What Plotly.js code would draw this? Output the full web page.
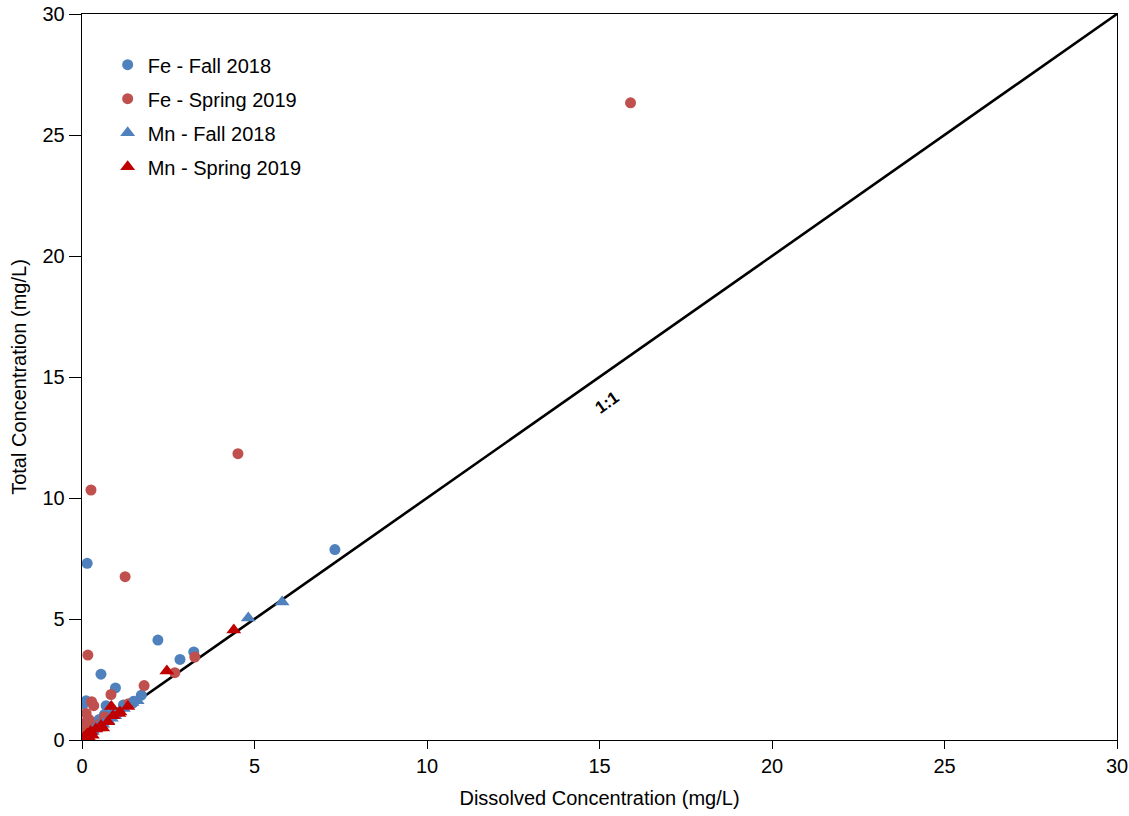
<!DOCTYPE html>
<html>
<head>
<meta charset="utf-8">
<script src="https://cdn.plot.ly/plotly-3.0.1.min.js"></script>
<style>html,body{margin:0;padding:0;background:#fff;}#chart{width:1129px;height:816px;}</style>
</head>
<body>
<div id="chart"></div>
<script>
// Fe - Fall 2018 (dissolved, total)
const feFallX = [7.33,0.15,2.2,3.24,2.84,0.55,0.97,1.72,1.5,1.2,0.7,0.12,0.05,0.9,0.6,0.45,0.3,0.2,0.35,0.8,1.05,0.1,0.05,0.65,0.5,1.48];
const feFallY = [7.87,7.3,4.13,3.64,3.33,2.72,2.15,1.85,1.6,1.45,1.42,1.62,1.5,1.1,0.75,0.6,0.45,0.3,0.55,0.95,1.15,0.2,0.1,1.05,0.85,1.53];
// Fe - Spring 2019
const feSprX = [15.9,4.52,0.26,1.25,0.17,3.27,2.69,1.8,0.84,0.28,0.34,0.12,0.05,0.15,0.25,0.65,1.35,0.1,0.4,0.05,0.5,0.2];
const feSprY = [26.33,11.83,10.33,6.75,3.51,3.43,2.78,2.25,1.88,1.58,1.42,1.1,0.68,0.6,0.5,0.95,1.5,0.35,0.5,0.2,0.65,0.85];
// Mn - Fall 2018
const mnFallX = [5.8,4.82,1.45,1.2,0.95,0.75,0.6,0.45,0.3,0.2,0.1,0.05,1.6,0.85,0.5,0.35];
const mnFallY = [5.7,5.04,1.55,1.3,1.0,0.8,0.65,0.5,0.35,0.25,0.12,0.05,1.62,0.9,0.6,0.45];
// Mn - Spring 2019
const mnSprX = [4.4,2.46,0.85,1.33,1.07,0.75,0.55,0.4,0.25,0.15,0.1,0.05,0.02,0.3,0.2,0.9,0.6,1.1];
const mnSprY = [4.55,2.85,1.38,1.38,1.1,0.75,0.6,0.45,0.35,0.25,0.15,0.1,0.02,0.2,0.1,1.0,0.5,1.16];
// 1:1 reference line
const lineX = [0,30];
const lineY = [0,30];
const ticks = [0,5,10,15,20,25,30];

const blue = '#4F81BD', red = '#C0504D', darkRed = '#C00000';
const font = 'Liberation Sans, Arial, sans-serif';

const traces = [
  {x: lineX, y: lineY, mode: 'lines', line: {color: '#000', width: 2.6}, showlegend: false, hoverinfo: 'skip'},
  {x: feFallX, y: feFallY, mode: 'markers', name: 'Fe - Fall 2018', legendgroup: 'a',
   marker: {symbol: 'circle', size: 11, color: blue}},
  {x: feSprX, y: feSprY, mode: 'markers', name: 'Fe - Spring 2019', legendgroup: 'b',
   marker: {symbol: 'circle', size: 11, color: red}},
  {x: mnFallX, y: mnFallY, mode: 'markers', name: 'Mn - Fall 2018', legendgroup: 'c',
   marker: {symbol: 'triangle-up', size: 13, color: blue}},
  {x: mnSprX, y: mnSprY, mode: 'markers', name: 'Mn - Spring 2019', legendgroup: 'd',
   marker: {symbol: 'triangle-up', size: 13, color: darkRed}}
];

const layout = {
  width: 1129, height: 816,
  margin: {l: 82, r: 12, t: 14, b: 76},
  paper_bgcolor: '#fff', plot_bgcolor: '#fff',
  font: {family: font, size: 19, color: '#000'},
  showlegend: true,
  legend: {x: 0.0248, y: 0.957, xanchor: 'left', yanchor: 'top', bgcolor: 'rgba(0,0,0,0)',
           font: {family: font, size: 20, color: '#000'}, tracegroupgap: 5},
  xaxis: {range: [0, 30], tickvals: ticks, ticktext: ticks.map(String), ticks: 'outside', ticklen: 8,
          tickcolor: '#000', showline: true, linecolor: '#000', linewidth: 1.3, mirror: true,
          showgrid: false, zeroline: false, tickfont: {size: 20},
          title: {text: 'Dissolved Concentration (mg/L)', font: {size: 20}, standoff: 14}},
  yaxis: {range: [0, 30], tickvals: ticks, ticktext: ticks.map(String), ticks: 'outside', ticklen: 12,
          tickcolor: '#000', showline: true, linecolor: '#000', linewidth: 1.3, mirror: true,
          showgrid: false, zeroline: false, tickfont: {size: 20},
          title: {text: 'Total Concentration (mg/L)', font: {size: 20}, standoff: 10}},
  annotations: [{x: 15.23, y: 13.93, xref: 'x', yref: 'y', text: '<b>1:1</b>', showarrow: false,
                 textangle: -35, font: {family: font, size: 17, color: '#000'}}]
};

Plotly.newPlot('chart', traces, layout, {displayModeBar: false, staticPlot: true});
</script>
</body>
</html>
